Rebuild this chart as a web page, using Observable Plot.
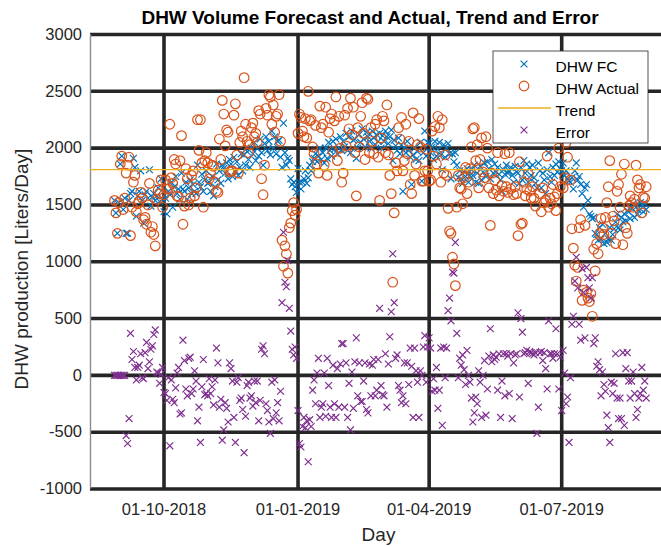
<!DOCTYPE html>
<html>
<head>
<meta charset="utf-8">
<script src="https://cdn.jsdelivr.net/npm/d3@7"></script>
<script src="https://cdn.jsdelivr.net/npm/@observablehq/plot@0.6"></script>
<style>
  html, body { margin: 0; padding: 0; background: #fff; }
  #chart svg { display: block; }
</style>
</head>
<body>
<div id="chart"></div>
<script>
// ---- data (daily, starting 28-08-2018) ----
const startDay = "2018-08-28";
const fcValues = [
  1540,1430,1250,1520,
  1860,1930,1460,1560,1250,1250,1540,1600,1620,1910,1830,1400,1580,1620,1800,1540,1340,1590,1620,1560,1810,1490,1570,1600,1540,1580,1650,1530,1730,1550,
  1440,1560,1420,1620,1590,1700,1480,1660,1750,1600,1640,1550,1780,1640,1620,1700,1550,1650,1720,1600,1680,1620,1600,1850,1700,1660,1770,1620,1720,1800,1690,
  1700,1620,1750,1580,1660,1860,1720,1800,1690,1850,1820,1780,1870,1730,1900,1860,1750,1920,1800,1880,1760,1830,1950,1800,1940,1850,1970,1900,1830,2000,
  1950,2050,1890,2000,1930,2080,1960,1850,2040,2100,1980,2060,1940,2150,2000,2100,1950,2060,2070,1920,1830,2220,1960,1850,1910,1890,1730,1680,1700,1660,1610,
  1820,1700,1640,1700,1730,1800,1690,1740,1850,1800,1880,1910,1950,1880,1930,2000,1900,1960,1870,2000,1910,2050,1980,1930,2060,1990,2080,1950,2000,2100,1980,
  2060,2010,2130,1980,2100,1960,2150,2070,2080,1910,2000,2120,2050,2170,2080,2010,2140,2100,2060,2000,2150,2090,2030,2120,2060,2130,2000,2110,
  2060,2150,2100,2040,2100,2160,1890,2070,2020,1980,2090,1950,2030,1620,2000,1960,2060,1980,1920,1680,1940,2000,1900,1970,1890,2050,1710,1960,2150,1930,2050,
  2040,1960,2010,1900,2060,1930,1990,2050,1940,1810,2030,1920,2000,2040,1950,1730,1950,1880,1960,1850,1740,1800,1730,1690,1790,1750,1820,1700,1760,1810,
  1760,1850,1700,1780,1690,1840,1720,1790,1870,1750,1880,1820,1730,1900,1780,1860,1790,1830,1770,1720,1620,1810,1770,1850,1780,1800,1830,1760,1700,1840,1790,
  1780,1690,1830,1720,1890,1780,1860,1700,1830,1760,1850,1740,1690,1650,1870,1800,1650,1780,1720,1600,1810,1960,1750,1700,1830,1760,1860,1790,1880,1820,
  1800,1870,1760,1800,1730,1710,1700,1740,1640,1800,1870,1720,1750,1680,1600,1480,1650,1680,1540,1420,1400,1380,1390,1250,1240,1190,1300,1200,1330,1160,1250,
  1170,1200,1300,1190,1240,1290,1350,1420,1300,1280,1390,1350,1420,1360,1450,1440,1380,1470,1510,1390,1480,1420,1450,1520,1500,1440,1510,1460
];
const actualValues = [
  1540,1430,1250,1520,
  1860,1930,1460,1560,1780,1850,1920,1230,1480,1700,1760,1440,1510,1530,1610,1560,1370,1390,1330,1500,1690,1260,1310,1240,1140,1550,1630,1600,1720,1480,
  1590,1720,1640,1640,2210,1740,1690,1900,1860,1580,1570,1890,2110,1330,1490,1820,1730,1500,1560,1760,1800,1580,1650,2250,1980,2250,1870,1480,1890,1960,1870,
  1730,1780,1850,1840,1700,1620,1610,2080,1900,2420,2300,2020,2160,2140,1790,1800,1800,2290,2390,1940,1780,2050,2150,2100,2620,2210,2060,1960,2030,2180,
  2220,2100,2130,2050,2330,2300,1730,1590,1850,2350,2290,2470,2450,2210,2380,2140,2280,2300,2470,2060,1190,960,1140,1070,900,1300,1340,1450,1520,1410,1460,
  2130,2300,2270,2150,2100,2260,2090,2500,2240,2250,2010,1950,2200,1860,1780,2370,2180,2210,1850,2360,1760,2140,2260,2300,1970,2240,2450,1890,2280,2000,1700,
  1780,2290,2020,2350,2170,2440,2120,2360,1960,1580,2180,2010,2280,2400,2130,1900,2440,2430,1960,2180,2060,1950,2210,2250,1920,1540,2090,2280,
  2240,1960,2380,1940,1760,1600,820,1430,1870,1800,2180,2080,2270,1800,1890,2210,1950,2060,1680,1600,2310,1760,1860,2030,2260,2010,1710,1710,1800,1990,1800,
  1710,1720,2150,1930,2190,1860,2280,2180,1700,2250,1780,1940,1760,1470,1270,1250,1040,980,790,1480,1760,1650,1640,1510,1740,1830,1600,1700,1820,2010,
  2170,2180,1890,2030,1650,1900,2090,1790,1740,2100,2000,1650,1320,1780,1600,1720,1630,1960,1580,2090,1670,1620,1950,1660,1610,1960,1640,2140,1590,1660,1600,
  1230,1880,1330,1340,1700,1580,1640,1770,1620,1560,1660,1560,1490,2160,2150,1600,1440,1650,1520,1540,1930,1480,1560,1510,1680,1570,1450,1600,2000,1660,
  2110,1650,1740,2050,1920,2300,1720,1290,1120,970,830,950,1300,1370,660,750,1320,730,680,650,720,520,1110,920,1160,1070,1250,1380,1300,1240,1390,
  1520,1660,1890,1250,1400,1360,1160,1620,1680,1480,1770,1150,1860,1300,1250,1490,1580,1520,1480,1550,1850,1720,1650,1680,1430,1570,1560,1660
];
const errorValues = [
  0,0,0,0,
  0,0,0,0,-530,-600,-380,370,140,210,70,-40,70,90,190,-20,-30,200,290,60,120,230,260,360,400,30,20,-70,10,70,
  -150,-160,-220,-20,-620,-40,-210,-240,-110,20,70,-340,-330,310,130,-120,-180,150,160,-160,-120,40,-50,-400,-280,-590,-100,140,-170,-160,-180,
  -30,-160,-100,-260,-40,240,110,-280,-210,-570,-480,-240,-290,-410,110,60,-50,-370,-590,-60,-20,-220,-200,-300,-680,-360,-90,-60,-200,-180,
  -270,-50,-240,-50,-400,-220,230,260,190,-250,-310,-410,-510,-60,-380,-40,-330,-240,-400,-140,640,1260,820,780,1010,590,390,230,180,250,150,
  -310,-600,-630,-450,-370,-460,-400,-760,-390,-450,-130,-40,-250,20,150,-370,-280,-250,20,-360,150,-90,-280,-370,90,-250,-370,60,-280,100,280,
  280,-280,110,-370,-70,-480,30,-290,120,330,-180,110,-230,-230,-50,110,-300,-330,100,-180,90,140,-180,-130,140,590,-90,-170,
  -180,190,-280,100,340,560,1070,640,150,180,-90,-130,-240,-180,110,-250,110,-80,240,80,-370,240,40,-60,-370,40,0,250,350,-60,250,
  330,240,-140,-30,-130,70,-290,-130,240,-440,250,-20,240,570,680,480,910,900,1170,370,-20,150,90,180,50,-80,220,0,-60,-200,
  -410,-330,-190,-250,40,-60,-370,0,130,-350,-120,170,410,120,180,140,160,-130,190,-370,-50,190,-180,190,170,-160,190,-380,110,180,190,
  550,-190,500,380,190,200,220,-70,210,200,190,180,200,-510,-280,200,210,130,200,60,-120,480,190,190,150,190,410,190,-120,160,
  -310,220,20,-250,-190,-590,-20,450,520,830,1040,770,450,310,940,730,330,950,860,770,680,860,280,330,80,120,50,-180,30,-80,-140,
  -350,-460,-590,-60,-160,-70,190,-200,-380,-200,-380,200,-440,60,200,-50,-200,-50,30,-160,-370,-300,-200,-160,70,-130,-50,-200
];
const trendValue = 1810;
const yTicks = [-1000, -500, 0, 500, 1000, 1500, 2000, 2500, 3000];
const xTickLabels = ["01-10-2018", "01-01-2019", "01-04-2019", "01-07-2019"];
const xDomainLabels = ["2018-08-11T13:00Z", "2019-09-07T12:00Z"];
const seriesNames = ["DHW FC", "DHW Actual", "Trend", "Error"];

// ---- build table ----
const parseDMY = d3.utcParse("%d-%m-%Y");
const xTicks = xTickLabels.map(parseDMY);
const start = d3.utcParse("%Y-%m-%d")(startDay);
const rows = fcValues.map((fc, i) => ({
  date: d3.utcDay.offset(start, i),
  fc,
  actual: actualValues[i],
  error: errorValues[i]
}));
const xDomain = xDomainLabels.map(s => new Date(s));

const BLUE = "#0072BD", ORANGE = "#D95319", YELLOW = "#EDB120", PURPLE = "#7E2F8E";
const GRID = "#262626";

const chart = Plot.plot({
  width: 661,
  height: 547,
  marginLeft: 90,
  marginRight: 0,
  marginTop: 34,
  marginBottom: 58.5,
  style: { fontFamily: "'Liberation Sans', Arial, Helvetica, sans-serif", fontSize: "16.5px", color: "#262626", background: "#fff" },
  x: { type: "utc", domain: xDomain, ticks: xTicks, tickFormat: d3.utcFormat("%d-%m-%Y"), tickSize: 0, tickPadding: 14, label: null },
  y: { domain: [-1000, 3000], ticks: yTicks, tickFormat: d => String(d), tickSize: 0, tickPadding: 8.5, label: null },
  marks: [
    Plot.ruleY(yTicks, { stroke: GRID, strokeWidth: 3.6 }),
    Plot.ruleX(xTicks, { stroke: GRID, strokeWidth: 3.6 }),
    Plot.ruleX([xDomain[0]], { stroke: "#8c8c8c", strokeWidth: 1.4 }),
    Plot.dot(rows, { x: "date", y: "fc", symbol: "times", r: 3.2, stroke: BLUE, strokeWidth: 1.15, fill: "none" }),
    Plot.dot(rows, { x: "date", y: "actual", symbol: "circle", r: 4.8, stroke: ORANGE, strokeWidth: 1.2, fill: "none" }),
    Plot.ruleY([trendValue], { stroke: YELLOW, strokeWidth: 1.3 }),
    Plot.dot(rows, { x: "date", y: "error", symbol: "times", r: 3.2, stroke: PURPLE, strokeWidth: 1.15, fill: "none" })
  ]
});
document.getElementById("chart").appendChild(chart);

// ---- title, axis labels and legend ----
const svg = d3.select(chart);
const FONT = "'Liberation Sans', Arial, Helvetica, sans-serif";
svg.append("text")
  .attr("x", 370).attr("y", 24)
  .attr("text-anchor", "middle")
  .attr("font-family", FONT).attr("font-weight", "bold").attr("font-size", 19)
  .attr("fill", "#000")
  .text("DHW Volume Forecast and Actual, Trend and Error");
svg.append("text")
  .attr("transform", "translate(27.5,269) rotate(-90)")
  .attr("text-anchor", "middle")
  .attr("font-family", FONT).attr("font-size", 19)
  .attr("fill", "#262626")
  .text("DHW production [Liters/Day]");
svg.append("text")
  .attr("x", 378.5).attr("y", 540.5)
  .attr("text-anchor", "middle")
  .attr("font-family", FONT).attr("font-size", 19)
  .attr("fill", "#262626")
  .text("Day");

const lg = svg.append("g");
lg.append("rect")
  .attr("x", 493).attr("y", 51).attr("width", 155).attr("height", 92)
  .attr("fill", "#fff").attr("stroke", "#262626").attr("stroke-width", 0.8);
const times = d3.symbol(d3.symbolTimes, Math.PI * 3.2 * 3.2)();
lg.append("path").attr("d", times).attr("transform", "translate(524,64)")
  .attr("fill", "none").attr("stroke", BLUE).attr("stroke-width", 1.15);
lg.append("circle").attr("cx", 524).attr("cy", 86).attr("r", 4.8)
  .attr("fill", "none").attr("stroke", ORANGE).attr("stroke-width", 1.2);
lg.append("line").attr("x1", 498).attr("x2", 551).attr("y1", 108).attr("y2", 108)
  .attr("stroke", YELLOW).attr("stroke-width", 1.6);
lg.append("path").attr("d", times).attr("transform", "translate(524,130)")
  .attr("fill", "none").attr("stroke", PURPLE).attr("stroke-width", 1.15);
const baselines = [72, 94, 116, 138];
seriesNames.forEach((name, i) => {
  lg.append("text")
    .attr("x", 555.5).attr("y", baselines[i])
    .attr("text-anchor", "start")
    .attr("font-family", FONT).attr("font-size", 15.5)
    .attr("fill", "#000")
    .text(name);
});
</script>
</body>
</html>
